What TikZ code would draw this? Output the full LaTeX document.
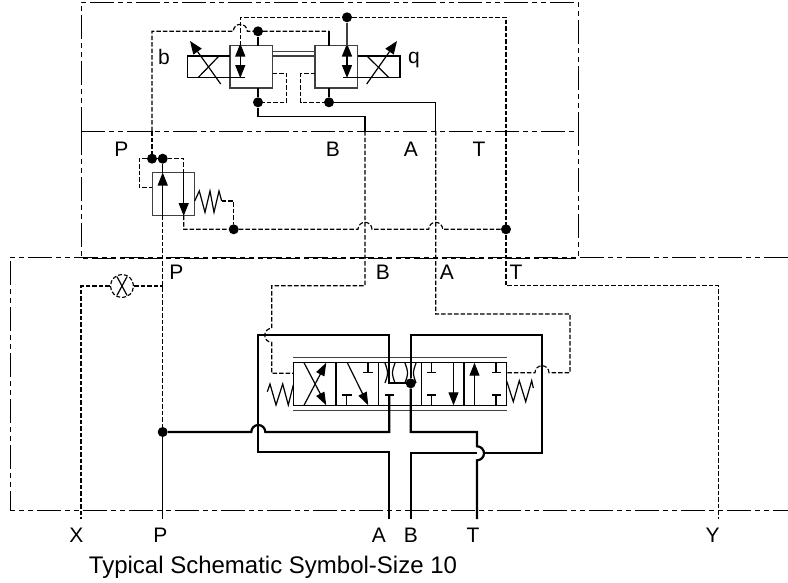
\documentclass[tikz,border=0pt]{standalone}
\usepackage{fontspec}
\setmainfont{Liberation Sans}
\usetikzlibrary{arrows.meta}
\tikzset{
 thin line/.style={line width=1.2pt,draw=black},
 dash line/.style={line width=1.15pt,draw=black,dash pattern=on 4.5pt off 2pt},
 thick line/.style={line width=2.2pt,draw=black},
 grey box/.style={line width=1.3pt,draw=black!75},
 border/.style={line width=0.9pt,draw=black,dash pattern=on 24pt off 4pt on 5pt off 4pt on 5pt off 4pt},
 dot/.style={circle,fill=black,inner sep=0pt,minimum size=10pt},
 lab/.style={font=\fontsize{21}{23}\selectfont,inner sep=0pt,text=black},
 head/.style={-{Triangle[length=13pt,width=10pt]}},
 smallhead/.style={-{Triangle[length=13pt,width=9pt]}}
}
\begin{document}
\begin{tikzpicture}[x=1pt,y=-1pt]
\useasboundingbox (0,0) rectangle (788,582);
% borders
\draw[border] (81,131) -- (81,2) -- (578,2) -- (578,131);
\draw[border] (81,131) -- (81,258) -- (578,258) -- (578,131);
\draw[border] (81,131) -- (578,131);
\draw[border] (788,257) -- (10,257) -- (10,510) -- (788,510);
% dots
\node[dot] (dA) at (258,31.3) {};
\node[dot] (dB) at (347,17.3) {};
\node[dot] (dC) at (258,102.3) {};
\node[dot] (dD) at (329,102.3) {};
\node[dot] (dE) at (152,158.7) {};
\node[dot] (dF) at (162.7,158.7) {};
\node[dot] (dG) at (233.7,229.3) {};
\node[dot] (dH) at (506,229.3) {};
\node[dot] (dI) at (162.7,432) {};
\node[dot] (dJ) at (410.7,383.3) {};
% pilot valves
\draw[grey box,fill=white] (230,45.7) rectangle (272.7,88);
\draw[grey box,fill=white] (315,45.7) rectangle (357.7,88);
\draw[line width=1.3pt,draw=black!75] (272.7,51.7) -- (315,51.7) (272.7,56) -- (315,56);
% solenoids
\draw[thin line] (230,56) -- (187.3,56) -- (187.3,77.7) -- (245,77.7);
\draw[thin line] (198,77.7) -- (219,56);
\draw[thin line,head] (220.7,84) -- (190,41);
\draw[thin line] (357.7,56) -- (400,56) -- (400,77.7) -- (343,77.7);
\draw[thin line] (367,56) -- (389,77.7);
\draw[thin line,head] (366.7,84) -- (397,41);
% double arrows
\draw[thin line,head] (240.3,61) -- (240.3,43.5);
\draw[thin line,head] (240.3,61) -- (240.3,78);
\draw[thin line,head] (347,61) -- (347,43.5);
\draw[thin line,head] (347,61) -- (347,78);
% pilot connections
\draw[dash line] (152,131) -- (152,31.3) -- (233.3,31.3) arc[start angle=180,end angle=0,radius=7pt] -- (dA) -- (329,31.3);
\draw[thin line] (329,31.3) -- (329,45.7);
\draw[thin line] (dA) -- (258,45.7);
\draw[dash line] (240.3,45.7) -- (240.3,17.3) -- (dB) -- (506,17.3) -- (506,131);
\draw[line width=1.3pt,draw=black!75] (dB) -- (347,45.7);
\draw[dash line] (272.7,73.3) -- (286.7,73.3) -- (286.7,102.3) -- (dC);
\draw[dash line] (315,73.3) -- (300.7,73.3) -- (300.7,102.3) -- (dD);
\draw[thin line] (258,88) -- (dC) -- (258,116.7) -- (365,116.7) -- (365,131);
\draw[thin line] (329,88) -- (dD) -- (435.7,102.3) -- (435.7,131);
% dashed verticals
\draw[dash line] (152,131) -- (dE);
\draw[dash line] (365,131) -- (365,285.7) -- (271.7,285.7) -- (271.7,328.3) arc[start angle=90,end angle=270,radius=7pt] -- (271.7,373.3) -- (293.3,373.3);
\draw[dash line] (435.7,131) -- (435.7,314) -- (570,314) -- (570,372.7) -- (549,372.7) arc[start angle=0,end angle=180,radius=7pt] -- (506.7,372.7);
\draw[dash line] (506,131) -- (506,285.7) -- (718.5,285.7) -- (718.5,519);
% pressure valve
\draw[grey box,fill=white] (152.3,172.7) rectangle (194.7,215.7);
\draw[dash line] (dE) -- (139.3,158.7) -- (139.3,187.3) -- (152.3,187.3);
\draw[dash line] (dF) -- (183.7,158.7) -- (183.7,172.7);
\draw[thin line] (dE) -- (dF);
\draw[thin line,head] (183.7,172.7) -- (183.7,216);
\draw[thin line,head] (162.7,215.7) -- (162.7,172.5);
\draw[thin line] (162.7,172.7) -- (dF);
\draw[dash line] (183.7,215.7) -- (183.7,229.3) -- (dG) -- (358,229.3) arc[start angle=180,end angle=0,radius=7pt] -- (428.7,229.3) arc[start angle=180,end angle=0,radius=7pt] -- (dH);
\draw[thin line] (194.7,201) -- (199.3,191) -- (205,212.3) -- (210,191) -- (214,212.3) -- (219,191) -- (221.7,201);
\draw[dash line] (221.7,201) -- (233.7,201) -- (dG);
% P line and orifice
\draw[dash line] (162.7,215.7) -- (dI);
\draw[thin line] (dI) -- (162.7,519);
\node[circle,draw=black,line width=1.15pt,dash pattern=on 4pt off 2pt,minimum size=23pt,inner sep=0pt] (orf) at (122,286) {};
\draw[thin line] (117,276.7) -- (127,295.3) (127,276.7) -- (117,295.3);
\draw[dash line] (orf) -- (81,286) -- (81,519);
\draw[dash line] (orf) -- (162.7,286);
% main spool
\draw[line width=1.4pt,draw=black!75] (293.3,357.3) -- (506.7,357.3) (293.3,410.7) -- (506.7,410.7);
\draw[thin line] (293.3,362.7) rectangle (506.7,405.3);
\foreach \x in {336,378.7,421.3,464} \draw[thin line] (\x,362.7) -- (\x,405.3);
% cell 1
\draw[thin line,smallhead] (304,405.3) -- (326.3,362.7);
\draw[thin line,smallhead] (304,362.7) -- (326.3,405.3);
% cell 2
\draw[thin line,smallhead] (347.3,362.7) -- (368.3,405.3);
\draw[thin line] (368,362.7) -- (368,372.7) (363.3,372.7) -- (372.7,372.7);
\draw[thin line] (346.7,405.3) -- (346.7,395) (342,395) -- (351.5,395);
% cell 3
\draw[thin line] (385,383) .. controls (388.5,373) .. (385,363);
\draw[thin line] (395,383) .. controls (391.5,373) .. (395,363);
\draw[thin line] (405,383) .. controls (408.5,373) .. (405,363);
\draw[thin line] (416,383) .. controls (412.5,373) .. (416,363);
% cell 4
\draw[thin line] (431.5,362.7) -- (431.5,372.7) (427,372.7) -- (436,372.7);
\draw[thin line] (431.5,405.3) -- (431.5,395) (427,395) -- (436,395);
\draw[thin line,head] (453.5,362.7) -- (453.5,405.3);
% cell 5
\draw[thin line,head] (474.5,405.3) -- (474.5,362.7);
\draw[thin line] (496,362.7) -- (496,372.7) (491.5,372.7) -- (500.5,372.7);
\draw[thin line] (496,405.3) -- (496,395) (491.5,395) -- (500.5,395);
% springs
\draw[thin line] (267.3,391.7) -- (270,384) -- (276,405) -- (282.7,384) -- (288.3,405) -- (293.3,385);
\draw[thin line] (506.7,381) -- (513.3,401.7) -- (519.3,380.7) -- (525.7,401.7) -- (531.7,380.7) -- (533.3,388);
% main lines
\draw[thick line,line join=miter] (dJ) -- (389.3,383.3) -- (389.3,335.3) -- (258.3,335.3) -- (258.3,452) -- (389.3,452) -- (389.3,519);
\draw[thick line] (dJ) -- (410.7,335.3) -- (542,335.3) -- (542,453.3) -- (484,453.3);
\draw[thick line] (477,453.3) -- (410.7,453.3) -- (410.7,519);
\draw[thick line] (dJ) -- (410.7,432) -- (477,432) -- (477,446.3) arc[start angle=90,end angle=-90,radius=7pt] -- (477,519);
\draw[thick line] (dI) -- (251.3,432) arc[start angle=180,end angle=0,radius=7pt] -- (389.3,432) -- (389.3,395);
\draw[thick line] (385,395) -- (394,395);
% labels
\node[lab] (lb) at (164,57) {b};
\node[lab] (lq) at (414,60) {q};
\node[lab] (l1) at (121.5,149) {P};
\node[lab] (l2) at (333,149) {B};
\node[lab] (l3) at (411,149) {A};
\node[lab] (l4) at (479,149) {T};
\node[lab] (l5) at (176.5,272) {P};
\node[lab] (l6) at (383,272) {B};
\node[lab] (l7) at (447,272) {A};
\node[lab] (l8) at (516,272) {T};
\node[lab] (l9) at (76.5,535.5) {X};
\node[lab] (l10) at (160.5,535.5) {P};
\node[lab] (l11) at (379,535.5) {A};
\node[lab] (l12) at (411,535.5) {B};
\node[lab] (l13) at (473,535.5) {T};
\node[lab] (l14) at (712.5,535.5) {Y};
\node[lab,font=\fontsize{24}{26}\selectfont,anchor=base] (cap) at (273,573) {Typical Schematic Symbol-Size 10};
\end{tikzpicture}
\end{document}
